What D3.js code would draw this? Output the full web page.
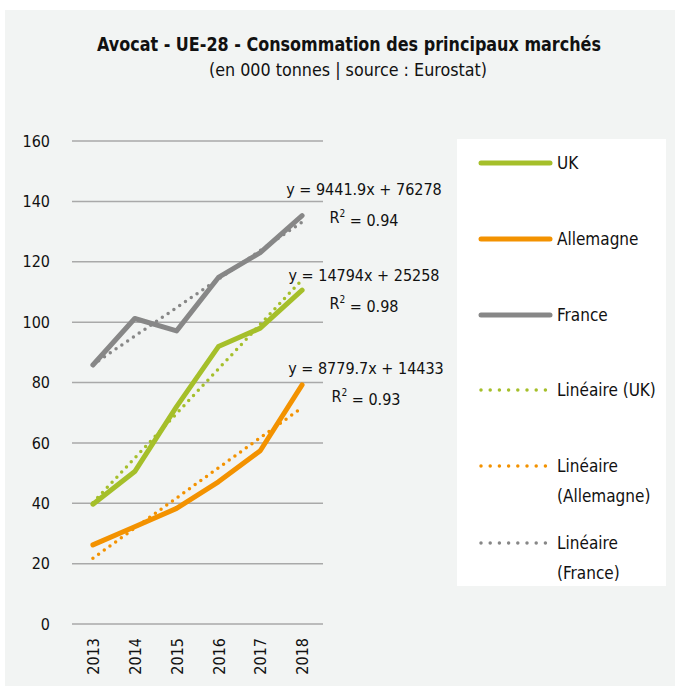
<!DOCTYPE html>
<html><head><meta charset="utf-8">
<script src="https://cdn.jsdelivr.net/npm/d3@7"></script>
<style>
html,body{margin:0;padding:0;background:#fff;}
text{font-family:"DejaVu Sans Condensed","Liberation Sans Narrow",sans-serif;fill:#111;}
</style></head>
<body>
<svg id="chart" width="675" height="686"></svg>
<script>
const years = ["2013","2014","2015","2016","2017","2018"];
const seriesNames = ["UK","Allemagne","France"];
const ukValues = [39.7, 50.5, 72.0, 91.9, 98.0, 110.6];
const allemagneValues = [26.2, 32.2, 38.3, 47.1, 57.4, 79.2];
const franceValues = [85.8, 101.2, 97.1, 114.8, 123.0, 135.3];
const yTicks = [0,20,40,60,80,100,120,140,160];
const equations = ["y = 9441.9x + 76278","y = 14794x + 25258","y = 8779.7x + 14433"];
const r2Values = ["0.94","0.98","0.93"];
const legendLabels = [["UK"],["Allemagne"],["France"],["Linéaire (UK)"],["Linéaire","(Allemagne)"],["Linéaire","(France)"]];
const titleText = "Avocat - UE-28 - Consommation des principaux marchés";
const subtitleText = "(en 000 tonnes | source : Eurostat)";

const colors = {"UK":"#a5bf2a","Allemagne":"#f39200","France":"#878787"};
const series = [
  {name:"UK", values:ukValues},
  {name:"Allemagne", values:allemagneValues},
  {name:"France", values:franceValues}
];

const svg = d3.select("#chart");
svg.append("rect").attr("x",5).attr("y",10).attr("width",670).attr("height",676).attr("fill","#f2f4f3");

const x = d3.scalePoint().domain(years).range([72,323]).padding(0.5);
const y = d3.scaleLinear().domain([0,160]).range([624,141]);

// gridlines
svg.append("g").selectAll("line").data(yTicks).join("line")
  .attr("x1",72).attr("x2",323)
  .attr("y1",d=>y(d)).attr("y2",d=>y(d))
  .attr("stroke","#a9a9a9").attr("stroke-width",1.5);

// y axis labels
const yAxis = d3.axisLeft(y).tickValues(yTicks).tickSize(0).tickPadding(0);
const gy = svg.append("g").attr("transform","translate(50,0)").call(yAxis);
gy.select(".domain").remove();
gy.selectAll("text").attr("font-size",16).attr("fill","#111").style("font-family",null);

// x axis labels
const xAxis = d3.axisBottom(x).tickSize(0).tickPadding(0);
const gx = svg.append("g").attr("transform","translate(0,638)").call(xAxis);
gx.select(".domain").remove();
gx.selectAll("text").attr("font-size",16).attr("fill","#111")
  .attr("transform","rotate(-90)").attr("text-anchor","end")
  .attr("x",0).attr("y",0).attr("dy","0.35em").style("font-family",null);

const line = d3.line().x((d,i)=>x(years[i])).y(d=>y(d));

// series lines
svg.append("g").selectAll("path").data(series).join("path")
  .attr("d",d=>line(d.values))
  .attr("fill","none").attr("stroke",d=>colors[d.name])
  .attr("stroke-width",5).attr("stroke-linecap","round").attr("stroke-linejoin","round");

// linear trendlines (least squares fit of each series)
function fit(vals){
  const xs = vals.map((v,i)=>i+1);
  const mx = d3.mean(xs), my = d3.mean(vals);
  const b = d3.sum(xs.map((xv,i)=>(xv-mx)*(vals[i]-my)))/d3.sum(xs.map(xv=>(xv-mx)*(xv-mx)));
  const a = my - b*mx;
  return xs.map(xv=>a+b*xv);
}
svg.append("g").selectAll("path").data(series).join("path")
  .attr("d",d=>line(fit(d.values)))
  .attr("fill","none").attr("stroke",d=>colors[d.name])
  .attr("stroke-width",3.5).attr("stroke-linecap","round")
  .attr("stroke-dasharray","0 7");

// equation labels
const eqPos = [[364,189,217],[364,275,303],[366,368,396]];
equations.forEach((eq,i)=>{
  svg.append("text").attr("x",eqPos[i][0]).attr("y",eqPos[i][1]).attr("dy","0.35em")
    .attr("text-anchor","middle").attr("font-size",16).text(eq);
  const t = svg.append("text").attr("x",eqPos[i][0]).attr("y",eqPos[i][2]).attr("dy","0.35em")
    .attr("text-anchor","middle").attr("font-size",16);
  t.append("tspan").text("R");
  t.append("tspan").attr("font-size",10).attr("dy","-0.6em").text("2");
  t.append("tspan").attr("dy","0.6em").text(" = "+r2Values[i]);
});

// legend
svg.append("rect").attr("x",457).attr("y",139).attr("width",209).attr("height",447).attr("fill","#fff");
const legY = [163,239,315,390,466,543];
const legSeries = ["UK","Allemagne","France","UK","Allemagne","France"];
legendLabels.forEach((lab,i)=>{
  const c = colors[legSeries[i]];
  const l = svg.append("line").attr("x1",481).attr("x2",i<3?550:546)
    .attr("y1",legY[i]).attr("y2",legY[i]).attr("stroke",c).attr("stroke-linecap","round");
  if(i<3) l.attr("stroke-width",5);
  else l.attr("stroke-width",3.5).attr("stroke-dasharray","0 9.2");
  lab.forEach((s,j)=>{
    svg.append("text").attr("x",557).attr("y",legY[i]+j*30.5).attr("dy","0.35em")
      .attr("font-size",17).text(s);
  });
});

// title
svg.append("text").attr("x",349).attr("y",51).attr("text-anchor","middle")
  .attr("font-size",20).attr("font-weight","bold")
  .attr("textLength",504).attr("lengthAdjust","spacingAndGlyphs").text(titleText);
svg.append("text").attr("x",348).attr("y",76).attr("text-anchor","middle")
  .attr("font-size",17)
  .attr("textLength",278).attr("lengthAdjust","spacingAndGlyphs").text(subtitleText);
</script>
</body></html>
